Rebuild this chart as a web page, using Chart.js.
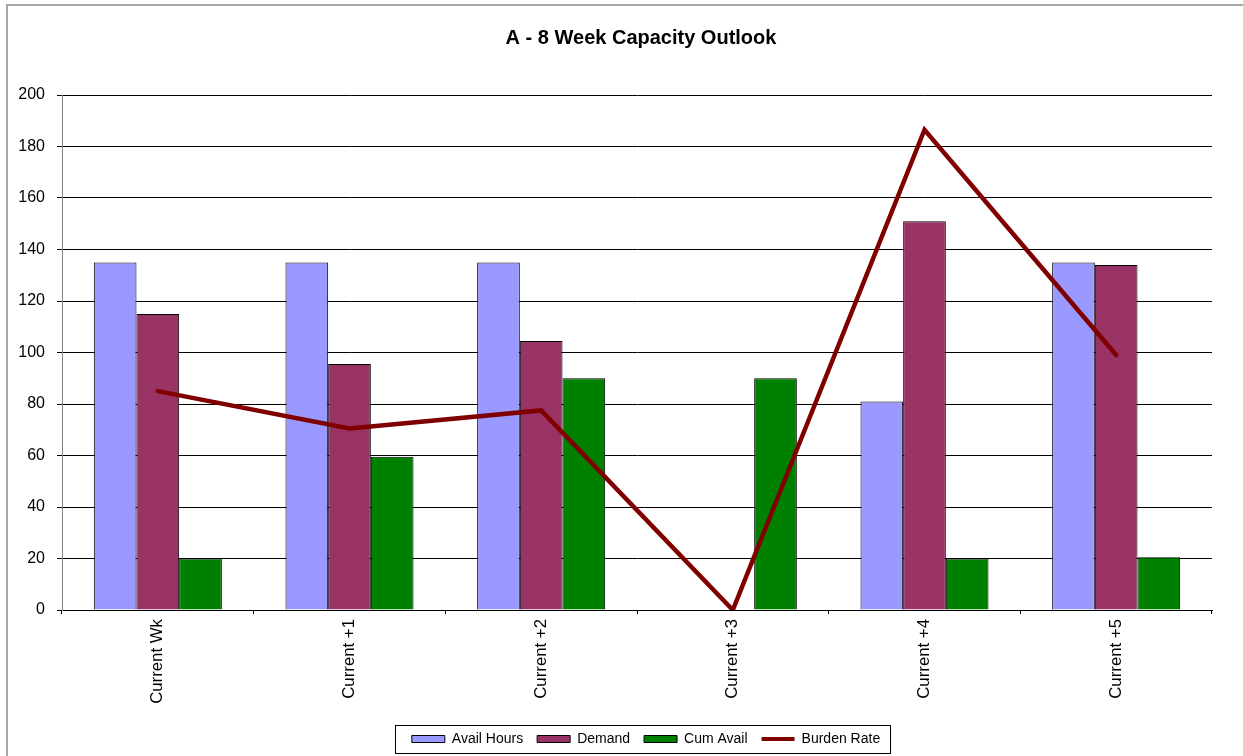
<!DOCTYPE html>
<html>
<head>
<meta charset="utf-8">
<script src="https://cdn.jsdelivr.net/npm/chart.js@4/dist/chart.umd.min.js"></script>
<style>
html,body{margin:0;padding:0;background:#fff;}
#wrap{width:1243px;height:756px;position:relative;}
</style>
</head>
<body>
<div id="wrap"><canvas id="c" width="1243" height="756"></canvas></div>
<script>
const categories = ["Current Wk", "Current +1", "Current +2", "Current +3", "Current +4", "Current +5"];
const availHours = [135, 135, 135, 0, 81, 135];
const demand = [115, 95.5, 104.5, 0, 151, 134];
const cumAvail = [20, 59.5, 90, 90, 20, 20.5];
const burdenRate = [85, 70.5, 77.5, 0, 186.5, 99];
const yTicks = [0, 20, 40, 60, 80, 100, 120, 140, 160, 180, 200];

const FONT = "'Liberation Sans', Arial, sans-serif";
const LEGEND_SHIFT = 40;
const TITLE_SHIFT = 35;

const framePlugin = {
  id: 'frame',
  beforeDraw(chart) {
    const ctx = chart.ctx;
    ctx.save();
    ctx.fillStyle = '#fff';
    ctx.fillRect(0, 0, chart.width, chart.height);
    ctx.strokeStyle = '#a6a6a6';
    ctx.lineWidth = 2;
    ctx.beginPath();
    ctx.moveTo(7, chart.height + 5);
    ctx.lineTo(7, 5);
    ctx.lineTo(chart.width + 5, 5);
    ctx.stroke();
    ctx.restore();
  },
  afterLayout(chart) {
    const lg = chart.legend;
    if (lg) { lg.left += LEGEND_SHIFT; lg.right += LEGEND_SHIFT; }
    const tt = chart.titleBlock;
    if (tt) { tt.left += TITLE_SHIFT; tt.right += TITLE_SHIFT; }
  },
  afterDraw(chart) {
    const lg = chart.legend;
    if (!lg || !lg.legendHitBoxes || !lg.legendHitBoxes.length) return;
    const hb = lg.legendHitBoxes;
    let l = Infinity, r = -Infinity, t = Infinity, b = -Infinity;
    hb.forEach(h => { l = Math.min(l, h.left); r = Math.max(r, h.left + h.width); t = Math.min(t, h.top); b = Math.max(b, h.top + h.height); });
    const ctx = chart.ctx;
    ctx.save();
    ctx.strokeStyle = '#000';
    ctx.lineWidth = 1;
    const cy = (t + b) / 2;
    ctx.strokeRect(Math.round(l - 17) + 0.5, Math.round(cy - 14) + 0.5, Math.round(r - l + 27), 28);
    ctx.restore();
  }
};

new Chart(document.getElementById('c'), {
  type: 'bar',
  data: {
    labels: categories,
    datasets: [
      { label: 'Avail Hours', data: availHours, backgroundColor: '#9999FF', borderColor: '#000', borderWidth: 1, order: 1 },
      { label: 'Demand', data: demand, backgroundColor: '#993366', borderColor: '#000', borderWidth: 1, order: 1 },
      { label: 'Cum Avail', data: cumAvail, backgroundColor: '#008000', borderColor: '#000', borderWidth: 1, order: 1 },
      { type: 'line', label: 'Burden Rate', data: burdenRate, borderColor: '#800000', backgroundColor: '#800000', borderWidth: 4.5, pointRadius: 0, tension: 0, order: 0, borderCapStyle: 'round', borderJoinStyle: 'miter' }
    ]
  },
  options: {
    responsive: false,
    animation: false,
    devicePixelRatio: 1,
    layout: { padding: { left: 0, right: 31, top: 0, bottom: 0 } },
    datasets: { bar: { categoryPercentage: 0.668, barPercentage: 1.0 } },
    plugins: {
      title: {
        display: true,
        text: 'A - 8 Week Capacity Outlook',
        color: '#000',
        font: { family: FONT, size: 20, weight: 'bold' },
        padding: { top: 26, bottom: 45 }
      },
      legend: {
        position: 'bottom',
        labels: {
          color: '#000',
          font: { family: FONT, size: 14 },
          usePointStyle: true,
          pointStyleWidth: 33,
          boxHeight: 7,
          padding: 14,
          sort: (a, b) => a.datasetIndex - b.datasetIndex,
          generateLabels(chart) {
            return chart.data.datasets.map((ds, i) => ({
              text: ds.label,
              fillStyle: ds.backgroundColor,
              strokeStyle: ds.type === 'line' ? ds.borderColor : '#000',
              lineWidth: ds.type === 'line' ? 4 : 1,
              pointStyle: ds.type === 'line' ? 'line' : 'rect',
              hidden: false,
              datasetIndex: i,
              fontColor: '#000'
            }));
          }
        }
      },
      tooltip: { enabled: false }
    },
    scales: {
      x: {
        offset: true,
        grid: { display: true, drawOnChartArea: false, drawTicks: true, tickLength: 4, color: '#000', offset: true },
        border: { display: true, color: '#000', width: 1 },
        ticks: {
          color: '#000',
          font: { family: FONT, size: 16.8 },
          minRotation: 90, maxRotation: 90,
          padding: 5
        },
        afterFit(scale) { scale.height = 108; }
      },
      y: {
        min: 0, max: 200,
        afterBuildTicks(scale) { scale.ticks = yTicks.map(v => ({ value: v })); },
        grid: { color: '#000', lineWidth: 1, drawTicks: true, tickLength: 5 },
        border: { display: true, color: '#808080', width: 1 },
        ticks: {
          color: '#000',
          font: { family: FONT, size: 16 },
          padding: 12
        },
        afterFit(scale) { scale.width = 62; }
      }
    }
  },
  plugins: [framePlugin]
});
</script>
</body>
</html>
